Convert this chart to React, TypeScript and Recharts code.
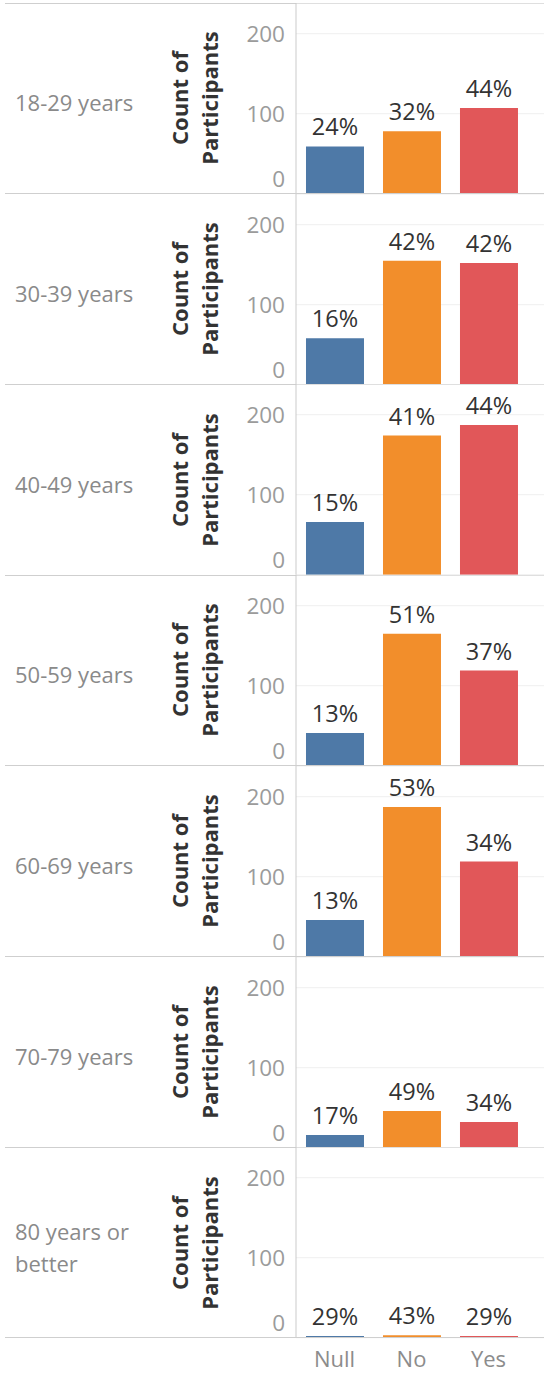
import { BarChart, Bar, XAxis, YAxis, CartesianGrid, Cell, LabelList } from 'recharts';

const AGE_GROUPS = ['18-29 years', '30-39 years', '40-49 years', '50-59 years', '60-69 years', '70-79 years', '80 years or better'];
const ANSWERS = ['Null', 'No', 'Yes'];
const NULL_COUNTS = [59, 58, 66, 41, 46, 16, 2];
const NO_COUNTS = [78, 155, 174, 165, 187, 46, 3];
const YES_COUNTS = [107, 152, 187, 119, 119, 32, 2];
const Y_TICKS = [0, 100, 200];

const COLORS = ['#4e79a7', '#f28e2b', '#e15759'];
const FONT = '"Open Sans", "Noto Sans", sans-serif';

const PANEL_TOP = 3;
const PANEL_H = 190.7;
const AXIS_X = 296;
const AXIS_ROW_H = 40;

// tableau keeps the 0 label inside the pane, so nudge it up
const YTick = (props: any) => {
  const { x, y, payload } = props;
  const dy = payload.value === 0 ? -15 : 0;
  return (
    <text x={x} y={y + dy} dy="0.35em" textAnchor="end" fill="#9b9b9b" fontSize={22.5} fontFamily={FONT}>
      {payload.value}
    </text>
  );
};

const Panel = ({ index, last }: { index: number; last: boolean }) => {
  const counts = [NULL_COUNTS[index], NO_COUNTS[index], YES_COUNTS[index]];
  const total = counts.reduce((a, b) => a + b, 0);
  const data = ANSWERS.map((answer, i) => ({ answer, count: counts[i], pct: Math.round((counts[i] / total) * 100) + '%' }));
  const top = PANEL_TOP + index * PANEL_H;
  const h = PANEL_H;
  const label = AGE_GROUPS[index];
  const labelLines = label === '80 years or better' ? ['80 years or', 'better'] : [label];

  return (
    <>
      <div style={{ position: 'absolute', left: 0, top: top, width: 544, height: h }}>
        <BarChart
          width={544}
          height={h + (last ? AXIS_ROW_H : 0)}
          data={data}
          margin={{ top: 0, right: 0, bottom: 0, left: 0 }}
        >
          <CartesianGrid vertical={false} stroke="#efefef" />
          <XAxis
            dataKey="answer"
            hide={!last}
            height={last ? AXIS_ROW_H : 0}
            padding={{ left: 0, right: 17 }}
            axisLine={false}
            tickLine={false}
            tickSize={0}
            tickMargin={14}
            tick={{ fill: '#8c8c8c', fontSize: 22, fontFamily: FONT }}
          />
          <YAxis
            width={AXIS_X}
            domain={[0, 238.4]}
            ticks={Y_TICKS}
            interval={0}
            allowDataOverflow
            axisLine={{ stroke: '#cbcbcb' }}
            tickLine={false}
            tickSize={0}
            tickMargin={11}
            tick={<YTick />}
          />
          <Bar dataKey="count" barSize={58} isAnimationActive={false}>
            {data.map((d, i) => (
              <Cell key={d.answer} fill={COLORS[i]} />
            ))}
            <LabelList dataKey="pct" position="top" offset={11} fill="#333" fontSize={23.5} fontFamily={FONT} />
          </Bar>
        </BarChart>
      </div>

      {/* row header */}
      <div
        style={{
          position: 'absolute',
          left: 15,
          top: top + h / 2 - (labelLines.length * 32) / 2 + 4,
          fontFamily: FONT,
          fontSize: 22,
          lineHeight: '32px',
          color: '#8a8a8a',
          whiteSpace: 'nowrap',
        }}
      >
        {labelLines.map((l) => (
          <div key={l}>{l}</div>
        ))}
      </div>

      {/* axis title */}
      <div
        style={{
          position: 'absolute',
          left: 194 - h / 2,
          top: top + h / 2 - 30,
          width: h,
          height: 60,
          transform: 'rotate(-90deg)',
          fontFamily: FONT,
          fontWeight: 700,
          fontSize: 22,
          lineHeight: '30px',
          color: '#333',
          textAlign: 'center',
          whiteSpace: 'nowrap',
        }}
      >
        <div>Count of</div>
        <div>Participants</div>
      </div>

      {/* pane divider */}
      <div style={{ position: 'absolute', left: 5, top: top + h - 0.5, width: 539, height: 1, background: '#cfcfcf' }} />
    </>
  );
};

export default function App() {
  return (
    <div style={{ position: 'absolute', left: 0, top: 0, width: 544, height: 1376, background: '#fff', overflow: 'hidden' }}>
      <div style={{ position: 'absolute', left: 5, top: 3, width: 539, height: 1, background: '#cfcfcf' }} />
      {AGE_GROUPS.map((g, i) => (
        <Panel key={g} index={i} last={i === AGE_GROUPS.length - 1} />
      ))}
    </div>
  );
}
